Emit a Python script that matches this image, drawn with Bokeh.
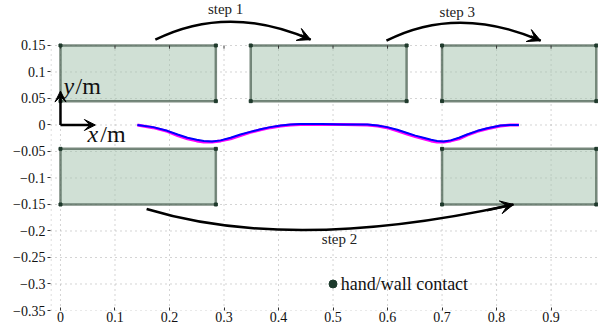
from bokeh.plotting import figure
from bokeh.models import Arrow, VeeHead, FixedTicker, CustomJSTickFormatter, Range1d
from bokeh.core.properties import value
from bokeh.embed import file_html
from bokeh.resources import INLINE

# ---------------- data ----------------
x_ticks = [0, 0.1, 0.2, 0.3, 0.4, 0.5, 0.6, 0.7, 0.8, 0.9]
y_ticks = [0.15, 0.1, 0.05, 0, -0.05, -0.1, -0.15, -0.2, -0.25, -0.3, -0.35]

# walls (boxes)
wall_left = [0.0, 0.349, 0.70, 0.0, 0.70]
wall_right = [0.285, 0.635, 0.983, 0.285, 0.983]
wall_bottom = [0.045, 0.045, 0.045, -0.15, -0.15]
wall_top = [0.15, 0.15, 0.15, -0.045, -0.045]

# trajectory (measured = blue, reference = magenta)
traj_x = [0.141, 0.170, 0.196, 0.215, 0.233, 0.250, 0.263, 0.278, 0.294, 0.312,
          0.330, 0.348, 0.367, 0.385, 0.404, 0.422, 0.440, 0.480, 0.519, 0.563,
          0.582, 0.599, 0.618, 0.636, 0.651, 0.666, 0.680, 0.691, 0.703, 0.716,
          0.731, 0.746, 0.765, 0.783, 0.807, 0.825, 0.841]
traj_y = [0.0, -0.004, -0.011, -0.018, -0.024, -0.028, -0.030, -0.031, -0.029, -0.024,
          -0.018, -0.013, -0.008, -0.004, -0.001, 0.001, 0.002, 0.002, 0.001, 0.001,
          -0.001, -0.004, -0.009, -0.015, -0.020, -0.024, -0.028, -0.030, -0.031, -0.029,
          -0.024, -0.018, -0.011, -0.006, -0.001, 0.0, 0.0]
ref_y = [0.0, -0.005, -0.012, -0.020, -0.026, -0.030, -0.032, -0.032, -0.030, -0.026,
         -0.020, -0.014, -0.009, -0.005, -0.002, 0.0, 0.001, 0.001, 0.001, 0.0,
         -0.002, -0.005, -0.011, -0.017, -0.022, -0.026, -0.030, -0.032, -0.032, -0.030,
         -0.026, -0.019, -0.012, -0.007, -0.002, 0.0, 0.0]

# step arcs (quadratic curves)
step_names = ["step 1", "step 2", "step 3"]
arc_x0 = [0.174, 0.158, 0.598]
arc_y0 = [0.161, -0.1585, 0.159]
arc_x1 = [0.459, 0.831, 0.881]
arc_y1 = [0.161, -0.150, 0.159]
arc_cx = [0.3075, 0.4255, 0.728]
arc_cy = [0.229, -0.242, 0.227]
step_label_x = [0.303, 0.512, 0.728]
step_label_y = [0.218, -0.216, 0.2132]

# hand/wall contact legend
contact_x = [0.5]
contact_y = [-0.3]
contact_label = ["hand/wall contact"]

x_min, x_max = -0.0183, 0.987
y_min, y_max = -0.35, 0.2349
y_frame_top = 0.15

FONT = "Liberation Serif"
GRID_COLOR = "#a8a8a8"

# ---------------- figure ----------------
p = figure(width=598, height=330,
           x_range=Range1d(x_min, x_max), y_range=Range1d(y_min, y_max),
           output_backend="svg", toolbar_location=None,
           min_border_left=50, min_border_right=0, min_border_top=0, min_border_bottom=20)
p.outline_line_color = None
p.grid.visible = False
p.background_fill_color = "white"

# axes
fmt = CustomJSTickFormatter(code="const s = String(Math.round(tick*100)/100); return s.replace('-', '\u2212');")
p.axis.axis_line_color = None
p.axis.minor_tick_line_color = None
p.axis.major_tick_line_color = "#333333"
p.axis.major_label_text_font = FONT
p.axis.major_label_text_font_size = "14px"
p.axis.major_label_text_color = "#111111"
p.axis.formatter = fmt
p.xaxis.ticker = FixedTicker(ticks=x_ticks)
p.yaxis.ticker = FixedTicker(ticks=y_ticks)
p.xaxis.major_tick_in = 3
p.xaxis.major_tick_out = 0
p.xaxis.major_label_standoff = 1
p.yaxis.major_tick_in = 0
p.yaxis.major_tick_out = 3
p.yaxis.major_label_standoff = 2

# dotted grid (limited to the axis box)
p.segment(x0=x_ticks, y0=[y_min] * len(x_ticks), x1=x_ticks, y1=[y_frame_top] * len(x_ticks),
          line_color=GRID_COLOR, line_width=1, line_dash="1 4")
p.segment(x0=[x_min] * len(y_ticks), y0=y_ticks, x1=[x_max] * len(y_ticks), y1=y_ticks,
          line_color=GRID_COLOR, line_width=1, line_dash="1 4")
p.segment(x0=[x_min + 0.001], y0=[y_min], x1=[x_min + 0.001], y1=[y_frame_top],
          line_color=GRID_COLOR, line_width=1, line_dash="1 4")

# walls
p.quad(left=wall_left, right=wall_right, bottom=wall_bottom, top=wall_top,
       fill_color="#a2c1ab", fill_alpha=0.5,
       line_color="#4d6354", line_alpha=0.75, line_width=2.5)

# top-axis ticks
p.segment(x0=x_ticks, y0=[y_frame_top] * len(x_ticks), x1=x_ticks,
          y1=[y_frame_top - 0.006] * len(x_ticks), line_color="#333333", line_width=1)

# contact corners
cx_pts, cy_pts = [], []
for l, r, b, t in zip(wall_left, wall_right, wall_bottom, wall_top):
    cx_pts += [l, r, l, r]
    cy_pts += [b, b, t, t]
p.scatter(x=cx_pts, y=cy_pts, marker="square", size=3, color="#1f3a2c")

# trajectories
p.line(traj_x, ref_y, line_color="#ff00ff", line_width=3)
p.line(traj_x, traj_y, line_color="#0000ff", line_width=2)

# step arcs with arrow heads
p.quadratic(x0=arc_x0, y0=arc_y0, x1=arc_x1, y1=arc_y1, cx=arc_cx, cy=arc_cy,
            line_color="black", line_width=2.5)
for x1, y1, cx, cy in zip(arc_x1, arc_y1, arc_cx, arc_cy):
    p.add_layout(Arrow(x_start=x1 - 0.12 * (x1 - cx), y_start=y1 - 0.12 * (y1 - cy),
                       x_end=x1, y_end=y1, line_width=2.5, line_color="black",
                       end=VeeHead(size=13, fill_color="black", line_color="black")))
p.text(x=step_label_x, y=step_label_y, text=step_names, text_font=value(FONT),
       text_font_size="15px", text_align="center", text_baseline="middle", text_color="#222222")

# coordinate-frame arrows and labels
p.add_layout(Arrow(x_start=0, y_start=0, x_end=0, y_end=0.064, line_width=2.5, line_color="black",
                   end=VeeHead(size=11, fill_color="black", line_color="black")))
p.add_layout(Arrow(x_start=0, y_start=0, x_end=0.064, y_end=0, line_width=2.5, line_color="black",
                   end=VeeHead(size=11, fill_color="black", line_color="black")))
p.text(x=[0.0055], y=[0.074], text=["y"], text_font=value(FONT), text_font_style="italic",
       text_font_size="24px", text_align="left", text_baseline="middle", text_color="#111111")
p.text(x=[0.0275], y=[0.074], text=["/m"], text_font=value(FONT),
       text_font_size="24px", text_align="left", text_baseline="middle", text_color="#111111")
p.text(x=[0.0495], y=[-0.017], text=["x"], text_font=value(FONT), text_font_style="italic",
       text_font_size="24px", text_align="left", text_baseline="middle", text_color="#111111")
p.text(x=[0.073], y=[-0.017], text=["/m"], text_font=value(FONT),
       text_font_size="24px", text_align="left", text_baseline="middle", text_color="#111111")

# legend
p.scatter(x=contact_x, y=contact_y, marker="circle", size=8, color="#1c3a2c")
p.text(x=[contact_x[0] + 0.014], y=contact_y, text=contact_label, text_font=value(FONT),
       text_font_size="18px", text_align="left", text_baseline="middle", text_color="#111111")

open("out.html", "w", encoding="utf-8").write(file_html(p, INLINE))
